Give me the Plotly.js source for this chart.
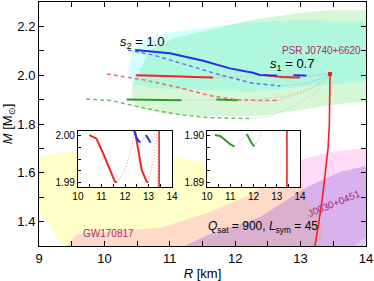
<!DOCTYPE html>
<html>
<head>
<meta charset="utf-8">
<script src="https://cdn.plot.ly/plotly-3.0.1.min.js"></script>
<style>html,body{margin:0;padding:0;background:#fff;}</style>
</head>
<body>
<div id="chart" style="width:374px;height:281px;"></div>
<script>
// ---- credible regions (R [km], M [Msun]) ----
const psrOuterR = [10.36,10.44,10.62,10.93,11.51,12.07,12.99,14.2,14.2,13.45,12.84,12.27,11.46,10.70,10.42];
const psrOuterM = [2.021,2.103,2.144,2.173,2.193,2.214,2.226,2.218,1.980,1.964,1.948,1.931,1.939,1.948,1.964];
const psrInnerR = [14.2,13.45,12.99,12.23,11.61,11.08,10.70,10.51,10.42,10.42,10.54,10.85,11.46,12.38,12.99,13.60,14.2];
const psrInnerM = [2.267,2.267,2.255,2.226,2.185,2.152,2.103,2.001,1.960,1.898,1.866,1.845,1.833,1.833,1.857,1.882,1.898];
const gwR = [8.8,9.24,9.93,10.70,11.23,11.69,12.38,12.84,13.04,13.11,13.27,13.34,13.33,13.27,9.35,9.24,9.09,8.9];
const gwM = [1.652,1.681,1.698,1.689,1.661,1.628,1.603,1.579,1.550,1.489,1.415,1.374,1.325,1.28,1.28,1.357,1.415,1.47];
const j0030OuterR = [9.28,9.58,10.85,11.57,12.23,12.76,12.99,13.45,14.2,14.2,13.6];
const j0030OuterM = [1.26,1.349,1.374,1.435,1.509,1.611,1.652,1.685,1.706,1.374,1.26];
const j0030InnerR = [11.0,11.61,12.38,13.10,13.60,14.2,14.2,13.85];
const j0030InnerM = [1.27,1.349,1.419,1.542,1.603,1.64,1.32,1.27];

// ---- s2 = 1.0 (blue) ----
const blueSolidAR = [10.47,11.0,11.51,11.92,12.27,12.38,12.50,12.64];
const blueSolidAM = [2.103,2.090,2.059,2.028,2.010,2.001,1.9993,1.9984];
const blueDotAR = [12.64,12.75,12.89];
const blueDotAM = [1.9984,1.9990,2.0000];
const blueSolidBR = [12.89,12.99,13.09];
const blueSolidBM = [2.0000,1.9991,1.9984];
const blueDotBR = [13.09,13.23,13.35,13.45];
const blueDotBM = [1.9984,2.000,2.001,2.005];
const blueDashR = [10.36,10.74,11.26,11.77,12.27,12.69];
const blueDashM = [2.103,2.083,2.042,2.001,1.967,1.956];
const blueDashDotR = [12.69,13.10,13.30,13.45];
const blueDashDotM = [1.956,1.967,1.985,2.005];

// ---- red ----
const redSolidAR = [10.48,10.78,11.07,11.36,11.57,11.66];
const redSolidAM = [2.0000,1.9993,1.9962,1.9927,1.9903,1.9901];
const redDotAR = [11.66,11.93,12.21,12.43];
const redDotAM = [1.9901,1.9920,1.9962,2.0007];
const redSolidBR = [12.43,12.57,12.71,12.92,12.99];
const redSolidBM = [2.0007,1.9962,1.9927,1.9903,1.9901];
const redDotBR = [12.99,13.21,13.35];
const redDotBM = [1.9901,1.9948,2.0003];
const redDashR = [10.04,10.6,11.1,11.6,12.0,12.4,12.64];
const redDashM = [2.005,1.981,1.952,1.917,1.900,1.896,1.897];
const redDashDotR = [12.64,12.84,13.04,13.30,13.45];
const redDashDotM = [1.897,1.915,1.930,1.962,2.005];
const redMainR = [13.45,13.45,13.44,13.42,13.38,13.33,13.28,13.22,13.2];
const redMainM = [2.005,1.90,1.80,1.70,1.60,1.49,1.40,1.30,1.27];

// ---- green ----
const greenSolidAR = [10.34,10.56,10.77,10.99,11.18];
const greenSolidAM = [1.9000,1.8998,1.8990,1.8981,1.8976];
const greenDotAR = [11.18,11.42,11.71];
const greenDotAM = [1.8976,1.8986,1.9002];
const greenSolidBR = [11.71,11.81,11.92,12.04];
const greenSolidBM = [1.9002,1.8993,1.8983,1.8976];
const greenDotBR = [12.04,12.21,12.35,12.8,13.2,13.45];
const greenDotBM = [1.8976,1.8990,1.9007,1.915,1.950,2.005];
const greenDashR = [9.72,10.1,10.6,11.1,11.6,12.1,12.25];
const greenDashM = [1.902,1.896,1.866,1.840,1.826,1.822,1.822];
const greenDashDotR = [12.25,12.53,12.94,13.25,13.45];
const greenDashDotM = [1.822,1.832,1.880,1.935,2.005];

// ---- ticks ----
const xTickVals = [9,10,11,12,13,14];
const yTickVals = [1.4,1.6,1.8,2.0,2.2];
const inXTickVals = [10,11,12,13,14];
const in1YVals = [1.99,2.0];
const in2YVals = [1.89,1.9];

const BLUE='#1f2fee', BLUE_L='#5a7cf0', BLUE_D='#8fa8f5';
const RED='#f02424', RED_L='#f26a6a', RED_D='#f5a0a0';
const GRN='#2e9a2e', GRN_L='#72b872', GRN_D='#a6d2a6';

function region(x,y,color){
  return {x:x,y:y,type:'scatter',mode:'lines',fill:'toself',fillcolor:color,
          line:{width:0,color:'rgba(0,0,0,0)'},hoverinfo:'skip',xaxis:'x',yaxis:'y'};
}
function line(x,y,color,width,dash,ax){
  return {x:x,y:y,type:'scatter',mode:'lines',line:{color:color,width:width,dash:dash||'solid'},
          hoverinfo:'skip',xaxis:'x'+(ax>1?ax:''),yaxis:'y'+(ax>1?ax:'')};
}

const traces = [
  region(gwR,gwM,'rgba(255,255,0,0.22)'),
  region(j0030OuterR,j0030OuterM,'rgba(255,70,210,0.20)'),
  region(j0030InnerR,j0030InnerM,'rgba(110,60,220,0.26)'),
  region(psrInnerR,psrInnerM,'rgba(30,210,30,0.18)'),
  region(psrOuterR,psrOuterM,'rgba(0,255,255,0.18)')
];

const DASH='4px,3px', DOT='1px,2px';
[1,2,3].forEach(function(ax){
  const dotW = ax===1?1:1.2;
  traces.push(line(greenSolidAR,greenSolidAM,GRN,2,null,ax));
  traces.push(line(greenDotAR,greenDotAM,GRN_D,dotW,DOT,ax));
  traces.push(line(greenSolidBR,greenSolidBM,GRN,2,null,ax));
  traces.push(line(greenDotBR,greenDotBM,GRN_D,dotW,DOT,ax));
  traces.push(line(redSolidAR,redSolidAM,RED,2,null,ax));
  traces.push(line(redDotAR,redDotAM,RED_D,dotW,DOT,ax));
  traces.push(line(redSolidBR,redSolidBM,RED,2,null,ax));
  traces.push(line(redDotBR,redDotBM,RED_D,dotW,DOT,ax));
  traces.push(line(blueSolidAR,blueSolidAM,BLUE,2,null,ax));
  traces.push(line(blueDotAR,blueDotAM,BLUE_D,dotW,DOT,ax));
  traces.push(line(blueSolidBR,blueSolidBM,BLUE,2,null,ax));
  traces.push(line(blueDotBR,blueDotBM,BLUE_D,dotW,DOT,ax));
  traces.push(line(redMainR,redMainM,RED,1.6,null,ax));
});
traces.push(line(greenDashR,greenDashM,GRN_L,1.5,DASH,1));
traces.push(line(greenDashDotR,greenDashDotM,GRN_D,1,DOT,1));
traces.push(line(redDashR,redDashM,RED_L,1.5,DASH,1));
traces.push(line(redDashDotR,redDashDotM,RED_D,1,DOT,1));
traces.push(line(blueDashR,blueDashM,BLUE_L,1.5,DASH,1));
traces.push(line(blueDashDotR,blueDashDotM,BLUE_D,1,DOT,1));
traces.push({x:[redMainR[0]],y:[redMainM[0]],type:'scatter',mode:'markers',
  marker:{color:RED,size:4,symbol:'square'},hoverinfo:'skip',xaxis:'x',yaxis:'y'});

const baseAx = {showgrid:false,zeroline:false,showline:true,linecolor:'#000',linewidth:1,
  ticks:'inside',mirror:'ticks',tickcolor:'#000',ticklen:5,tickwidth:1,fixedrange:true,tickmode:'array'};
const inAx = {showgrid:false,zeroline:false,showline:true,linecolor:'#000',linewidth:1,
  ticks:'inside',mirror:true,tickcolor:'#000',ticklen:3,tickwidth:1,tickfont:{size:10},fixedrange:true,tickmode:'array'};

const LBL='#b0286e';
const layout = {
  width:374,height:281,margin:{l:39,r:8,t:2,b:35},
  paper_bgcolor:'#fff',plot_bgcolor:'#fff',showlegend:false,
  font:{family:'"Liberation Sans", Arial, sans-serif',size:13,color:'#000'},
  xaxis:Object.assign({},baseAx,{range:[9,14],domain:[0,1],anchor:'y',tickvals:xTickVals,
    minor:{dtick:0.5,tick0:9,ticks:'inside',ticklen:5,tickcolor:'#000',tickwidth:1},
    title:{text:'<i>R</i> [km]',font:{size:13},standoff:6}}),
  yaxis:Object.assign({},baseAx,{range:[1.3,2.3],domain:[0,1],anchor:'x',tickvals:yTickVals,tickformat:'.1f',
    minor:{dtick:0.1,tick0:1.3,ticks:'inside',ticklen:5,tickcolor:'#000',tickwidth:1},
    title:{text:'<i>M</i> [M<sub>⊙</sub>]',font:{size:13},standoff:6}}),
  xaxis2:Object.assign({},inAx,{range:[10,14],domain:[0.119,0.407],anchor:'y2',tickvals:inXTickVals,
    minor:{dtick:0.5,tick0:10,ticks:'inside',ticklen:3,tickcolor:'#000'}}),
  yaxis2:Object.assign({},inAx,{range:[1.98917,2.00083],domain:[0.242,0.471],anchor:'x2',tickvals:in1YVals,tickformat:'.2f',
    minor:{dtick:0.0025,tick0:1.99,ticks:'inside',ticklen:3,tickcolor:'#000'}}),
  xaxis3:Object.assign({},inAx,{range:[10,14],domain:[0.514,0.798],anchor:'y3',tickvals:inXTickVals,
    minor:{dtick:0.5,tick0:10,ticks:'inside',ticklen:3,tickcolor:'#000'}}),
  yaxis3:Object.assign({},inAx,{range:[1.88917,1.90083],domain:[0.242,0.471],anchor:'x3',tickvals:in2YVals,tickformat:'.2f',
    minor:{dtick:0.0025,tick0:1.89,ticks:'inside',ticklen:3,tickcolor:'#000'}}),
  annotations:[
    {x:10.57,y:2.136,xref:'x',yref:'y',text:'<i>s</i><sub>2</sub> = 1.0',showarrow:false,font:{size:13}},
    {x:12.87,y:2.042,xref:'x',yref:'y',text:'<i>s</i><sub>1</sub> = 0.7',showarrow:false,font:{size:13}},
    {x:13.32,y:2.103,xref:'x',yref:'y',text:'PSR J0740+6620',showarrow:false,font:{size:10,color:LBL}},
    {x:10.06,y:1.353,xref:'x',yref:'y',text:'GW170817',showarrow:false,font:{size:10,color:LBL}},
    {x:13.51,y:1.476,xref:'x',yref:'y',text:'J0030+0451',showarrow:false,textangle:-22,font:{size:10,color:LBL}},
    {x:12.43,y:1.378,xref:'x',yref:'y',text:'<i>Q</i><sub>sat</sub> = 900, <i>L</i><sub>sym</sub> = 45',showarrow:false,font:{size:12}}
  ]
};
Plotly.newPlot('chart',traces,layout,{staticPlot:true,displayModeBar:false});
</script>
</body>
</html>
